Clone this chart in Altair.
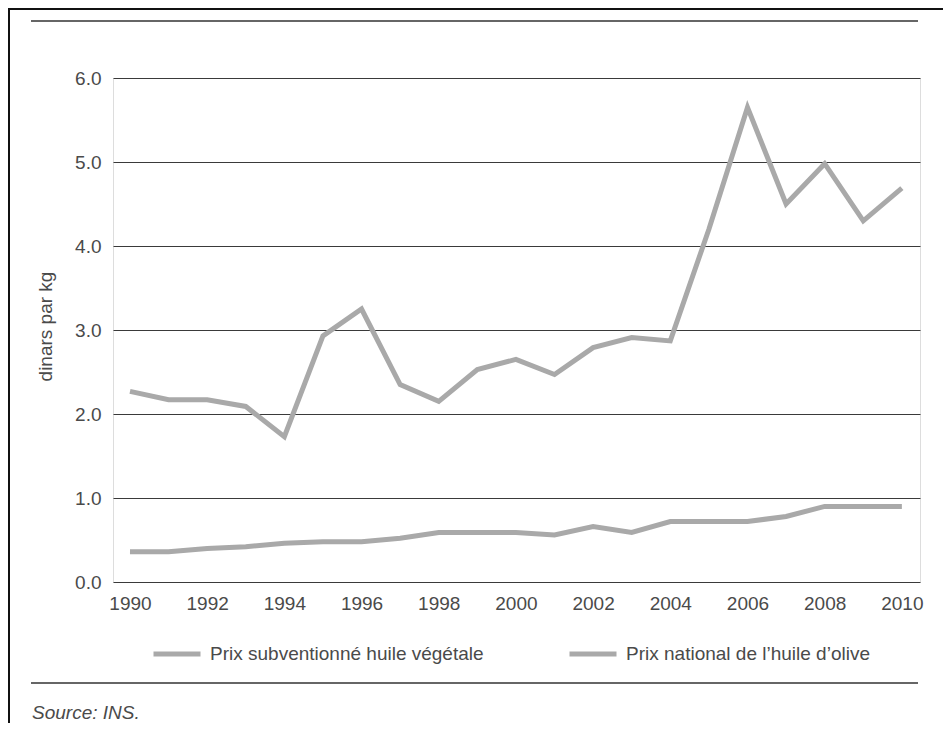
import altair as alt
import pandas as pd

years = list(range(1990, 2011))
olive = [2.27, 2.17, 2.17, 2.09, 1.73, 2.93, 3.25, 2.35, 2.15, 2.53, 2.65,
         2.47, 2.79, 2.91, 2.87, 4.20, 5.65, 4.50, 4.98, 4.30, 4.69]
veg = [0.36, 0.36, 0.40, 0.42, 0.46, 0.48, 0.48, 0.52, 0.59, 0.59, 0.59,
       0.56, 0.66, 0.59, 0.72, 0.72, 0.72, 0.78, 0.90, 0.90, 0.90]
series = ["Prix subventionné huile végétale", "Prix national de l\u2019huile d\u2019olive"]
y_ticks = [0, 1, 2, 3, 4, 5, 6]
x_ticks = list(range(1990, 2011, 2))

df = pd.DataFrame({
    "annee": years + years,
    "valeur": veg + olive,
    "serie": [series[0]] * len(years) + [series[1]] * len(years),
})

FONT = "Liberation Sans"
TXT = "#4a4a4a"
LINE = "#a9a9a9"

lines = alt.Chart(df).mark_line(strokeWidth=5).encode(
    x=alt.X("annee:Q",
            scale=alt.Scale(domain=[1989.56, 2010.47], nice=False, zero=False),
            axis=alt.Axis(values=x_ticks, format="d", grid=False, domain=False,
                          ticks=False, tickSize=0, labelPadding=12,
                          labelFont=FONT, labelFontSize=19, labelColor=TXT,
                          title=None)),
    y=alt.Y("valeur:Q",
            scale=alt.Scale(domain=[0, 6], nice=False),
            axis=alt.Axis(values=y_ticks, format=".1f", grid=True,
                          gridColor="#3a3a3a", gridWidth=1.2, domain=False,
                          ticks=False, tickSize=0, labelPadding=12,
                          labelFont=FONT, labelFontSize=19, labelColor=TXT,
                          title="dinars par kg", titleFont=FONT, titleFontSize=19,
                          titleFontWeight="normal", titleColor=TXT,
                          titleX=-62, titleY=248, titleBaseline="alphabetic")),
    color=alt.Color("serie:N",
                    scale=alt.Scale(domain=series, range=[LINE, LINE]),
                    legend=alt.Legend(orient="none", legendX=38, legendY=550,
                                      direction="horizontal", title=None,
                                      symbolType="stroke", symbolSize=2209,
                                      symbolStrokeWidth=5, labelOffset=7,
                                      columnPadding=75, labelLimit=500,
                                      labelFont=FONT, labelFontSize=19,
                                      labelColor=TXT, padding=0)),
)

rule_df = pd.DataFrame({"k": [0]})
top_rule = alt.Chart(rule_df).mark_rule(color="#333333", strokeWidth=1.5).encode(
    x=alt.value(-82), x2=alt.value(805), y=alt.value(-57))
bottom_rule = alt.Chart(rule_df).mark_rule(color="#333333", strokeWidth=1.5).encode(
    x=alt.value(-82), x2=alt.value(805), y=alt.value(605))
frame_left = alt.Chart(rule_df).mark_rule(color="#111111", strokeWidth=2).encode(
    x=alt.value(-104), y=alt.value(-70), y2=alt.value(645))
frame_top = alt.Chart(rule_df).mark_rule(color="#111111", strokeWidth=2).encode(
    x=alt.value(-105), x2=alt.value(830), y=alt.value(-69))
source = alt.Chart(rule_df).mark_text(
    text="Source: INS.", font=FONT, fontSize=19, fontStyle="italic",
    color=TXT, align="left", baseline="alphabetic").encode(
    x=alt.value(-81), y=alt.value(641))

chart = alt.layer(frame_left, frame_top, top_rule, bottom_rule, lines, source).properties(
    width=807, height=504,
    padding={"left": 105, "top": 70, "right": 23, "bottom": 141},
    autosize=alt.AutoSizeParams(type="none"),
).configure_view(stroke=None).configure(background="white")

chart.save("out.html", embed_options={"renderer": "svg", "actions": False})
